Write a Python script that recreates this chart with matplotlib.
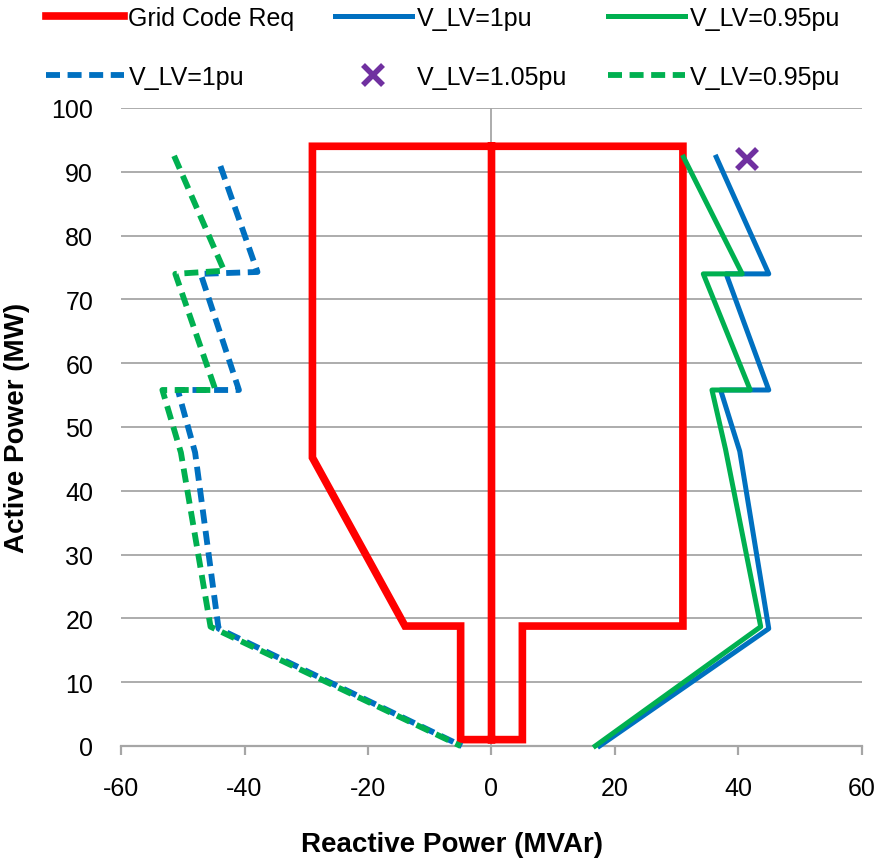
import matplotlib
matplotlib.use("Agg")
import matplotlib.pyplot as plt
from matplotlib.lines import Line2D

plt.rcParams["font.family"] = ["Liberation Sans", "DejaVu Sans"]
plt.rcParams["axes.unicode_minus"] = False

# %% data (x = reactive power MVAr, y = active power MW)
grid_q = [0, 0, 31, 31, 5, 5, -5, -5, -14, -29, -29, 0]
grid_p = [1, 94, 94, 18.8, 18.8, 1, 1, 18.8, 18.8, 45.2, 94, 94]

lv1_q = [36.4, 44.9, 38.0, 44.9, 37.1, 40.2, 44.9, 17.5]
lv1_p = [92.3, 74.0, 74.0, 55.8, 55.8, 46.2, 18.4, 0]

lv095_q = [31.1, 40.6, 34.3, 41.9, 35.7, 37.9, 43.6, 16.8]
lv095_p = [92.3, 74.0, 74.0, 55.8, 55.8, 46.5, 18.7, 0]

lv1_dash_q = [-43.9, -37.9, -47.1, -40.9, -50.8, -48.0, -44.2, -4.8]
lv1_dash_p = [90.9, 74.3, 74.0, 55.8, 55.8, 46.0, 18.4, 0]

lv095_dash_q = [-51.4, -43.3, -51.2, -44.7, -53.3, -50.3, -45.5, -5.0]
lv095_dash_p = [92.5, 74.5, 74.0, 55.8, 55.8, 46.0, 18.7, 0]

lv105_q = [41.4]
lv105_p = [92.0]

RED = "#FF0000"
BLUE = "#0070C0"
GREEN = "#00B050"
PURPLE = "#7030A0"
GRAY = "#A6A6A6"

# %% figure
fig = plt.figure(figsize=(8.94, 8.62), dpi=100)
ax = fig.add_axes([121 / 894, 1 - 747 / 862, 741 / 894, 638 / 862])

ax.set_xlim(-60, 60)
ax.set_ylim(0, 100)
ax.set_xticks(range(-60, 61, 20))
ax.set_yticks(range(0, 101, 10))

ax.grid(axis="y", color=GRAY, linewidth=1.3)
ax.set_axisbelow(True)
for s in ["top", "right", "left"]:
    ax.spines[s].set_visible(False)
ax.spines["bottom"].set_color(GRAY)
ax.spines["bottom"].set_linewidth(1.6)
ax.axvline(0, color=GRAY, linewidth=1.3, zorder=0.5)

ax.tick_params(axis="x", length=6.5, width=1.6, color=GRAY, pad=15, labelsize=18)
ax.tick_params(axis="y", length=0, pad=20, labelsize=18)

dash = (2.4, 1.3)
ax.plot(grid_q, grid_p, color=RED, lw=5.5, solid_joinstyle="miter", clip_on=False, zorder=3)
ax.plot(lv1_q, lv1_p, color=BLUE, lw=3.6, clip_on=False, zorder=3)
ax.plot(lv095_q, lv095_p, color=GREEN, lw=3.6, clip_on=False, zorder=3)
ax.plot(lv1_dash_q, lv1_dash_p, color=BLUE, lw=4.2, dashes=dash, clip_on=False, zorder=3)
ax.plot(lv095_dash_q, lv095_dash_p, color=GREEN, lw=4.2, dashes=dash, clip_on=False, zorder=3)
ax.plot(lv105_q, lv105_p, "x", color=PURPLE, ms=15, mew=4, clip_on=False, zorder=3)

ax.set_xlabel("Reactive Power (MVAr)", fontsize=20, fontweight="bold", va="center")
ax.xaxis.set_label_coords((452 - 121) / 741, -(845 - 747) / 638)
ax.set_ylabel("Active Power (MW)", fontsize=20, fontweight="bold")
ax.yaxis.set_label_coords(-(121 - 30) / 741, 0.5)

# legend, column-major order for 3 columns x 2 rows
handles = [
    Line2D([], [], color=RED, lw=5.5),
    Line2D([], [], color=BLUE, lw=4.2, dashes=dash),
    Line2D([], [], color=BLUE, lw=3.6),
    Line2D([], [], color=PURPLE, lw=0, marker="x", ms=15, mew=4),
    Line2D([], [], color=GREEN, lw=3.6),
    Line2D([], [], color=GREEN, lw=4.2, dashes=dash),
]
labels = ["Grid Code Req", "V_LV=1pu", "V_LV=1pu", "V_LV=1.05pu", "V_LV=0.95pu", "V_LV=0.95pu"]
fig.legend(handles, labels, ncol=3, loc="upper left", bbox_to_anchor=(46 / 894, 1 - 7 / 862),
           frameon=False, fontsize=18, handlelength=3.1, handletextpad=0.2,
           columnspacing=1.6, labelspacing=1.4, borderaxespad=0, borderpad=0)

fig.savefig("out.png", dpi=100)
